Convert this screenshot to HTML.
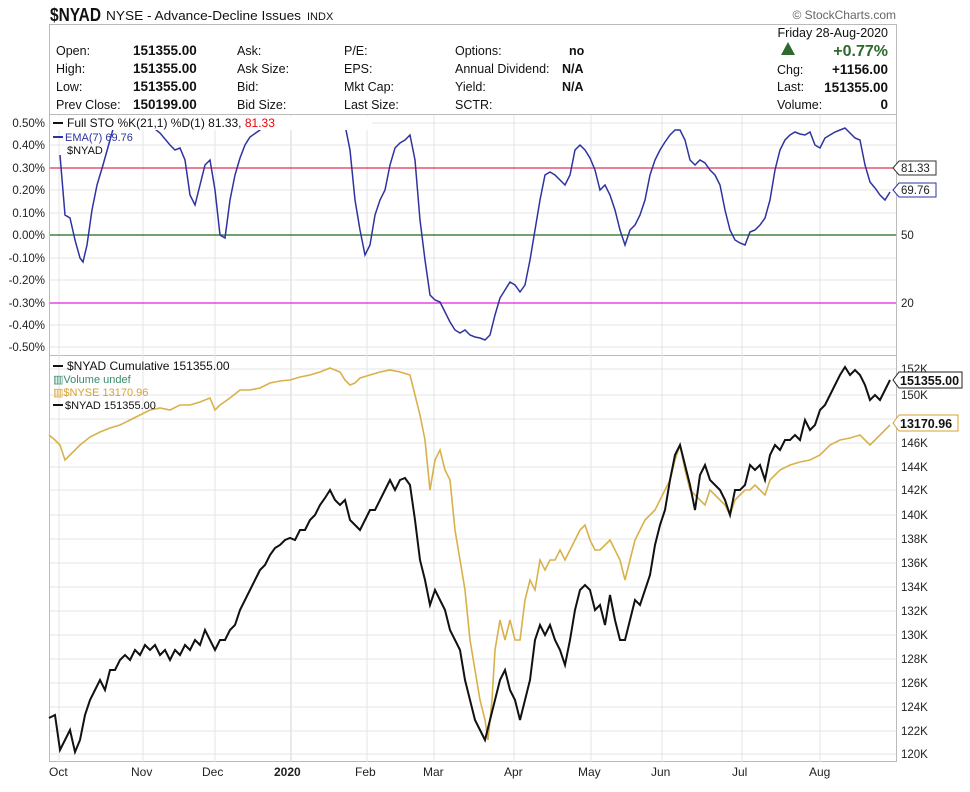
<!DOCTYPE html>
<html><head><meta charset="utf-8"><style>
body{margin:0;background:#fff;width:970px;height:787px;overflow:hidden;font-family:"Liberation Sans",sans-serif}
</style></head><body>
<svg width="970" height="787" xmlns="http://www.w3.org/2000/svg" font-family="Liberation Sans, sans-serif">
<text x="50" y="21" font-size="18" font-weight="bold" fill="#111" textLength="51" lengthAdjust="spacingAndGlyphs">$NYAD</text>
<text x="106" y="20" font-size="13" fill="#111" textLength="195" lengthAdjust="spacingAndGlyphs">NYSE - Advance-Decline Issues</text>
<text x="307" y="20" font-size="11" fill="#111">INDX</text>
<text x="896" y="19" font-size="12" fill="#666" text-anchor="end">© StockCharts.com</text>
<rect x="49.5" y="24.5" width="847" height="90" fill="#fff" stroke="#bbb"/>
<g font-size="12.5" fill="#111">
<text x="56" y="55">Open:</text><text x="56" y="73">High:</text><text x="56" y="91">Low:</text><text x="56" y="109">Prev Close:</text>
<g font-weight="bold" font-size="13.5"><text x="133" y="55">151355.00</text><text x="133" y="73">151355.00</text><text x="133" y="91">151355.00</text><text x="133" y="109">150199.00</text></g>
<text x="237" y="55">Ask:</text><text x="237" y="73">Ask Size:</text><text x="237" y="91">Bid:</text><text x="237" y="109">Bid Size:</text>
<text x="344" y="55">P/E:</text><text x="344" y="73">EPS:</text><text x="344" y="91">Mkt Cap:</text><text x="344" y="109">Last Size:</text>
<text x="455" y="55">Options:</text><text x="455" y="73">Annual Dividend:</text><text x="455" y="91">Yield:</text><text x="455" y="109">SCTR:</text>
<g font-weight="bold"><text x="569" y="55">no</text><text x="562" y="73">N/A</text><text x="562" y="91">N/A</text></g>
<text x="888" y="37" text-anchor="end">Friday  28-Aug-2020</text>
<polygon points="781,55 788,42 795,55" fill="#2d6a2d"/>
<text x="888" y="56" text-anchor="end" font-size="16" font-weight="bold" fill="#2d6a2d">+0.77%</text>
<text x="777" y="74">Chg:</text><text x="888" y="74" text-anchor="end" font-weight="bold" font-size="13.5">+1156.00</text>
<text x="777" y="91">Last:</text><text x="888" y="92" text-anchor="end" font-weight="bold" font-size="13.5">151355.00</text>
<text x="777" y="109">Volume:</text><text x="888" y="109" text-anchor="end" font-weight="bold" font-size="13.5">0</text>
</g>
<rect x="49.5" y="114.5" width="847" height="241" fill="none" stroke="#bbb"/>
<rect x="49.5" y="355.5" width="847" height="406" fill="none" stroke="#bbb"/>
<g stroke="#e4e4e4" stroke-width="1">
<line x1="59" y1="115" x2="59" y2="762"/><line x1="143" y1="115" x2="143" y2="762"/><line x1="215" y1="115" x2="215" y2="762"/><line x1="291" y1="115" x2="291" y2="762" stroke="#d4d4d4"/><line x1="367" y1="115" x2="367" y2="762"/><line x1="434" y1="115" x2="434" y2="762"/><line x1="514" y1="115" x2="514" y2="762"/><line x1="591" y1="115" x2="591" y2="762"/><line x1="662" y1="115" x2="662" y2="762"/><line x1="742" y1="115" x2="742" y2="762"/><line x1="820" y1="115" x2="820" y2="762"/>
<line x1="50" y1="123" x2="896" y2="123"/><line x1="50" y1="145" x2="896" y2="145"/><line x1="50" y1="190" x2="896" y2="190"/><line x1="50" y1="213" x2="896" y2="213"/><line x1="50" y1="258" x2="896" y2="258"/><line x1="50" y1="280" x2="896" y2="280"/><line x1="50" y1="325" x2="896" y2="325"/><line x1="50" y1="347" x2="896" y2="347"/>
</g>
<g stroke="#e4e4e4">
<line x1="50" y1="754" x2="896" y2="754"/><line x1="50" y1="731" x2="896" y2="731"/><line x1="50" y1="707" x2="896" y2="707"/><line x1="50" y1="683" x2="896" y2="683"/><line x1="50" y1="659" x2="896" y2="659"/><line x1="50" y1="635" x2="896" y2="635"/><line x1="50" y1="611" x2="896" y2="611"/><line x1="50" y1="587" x2="896" y2="587"/><line x1="50" y1="563" x2="896" y2="563"/><line x1="50" y1="539" x2="896" y2="539"/><line x1="50" y1="515" x2="896" y2="515"/><line x1="50" y1="490" x2="896" y2="490"/><line x1="50" y1="467" x2="896" y2="467"/><line x1="50" y1="443" x2="896" y2="443"/><line x1="50" y1="419" x2="896" y2="419"/><line x1="50" y1="395" x2="896" y2="395"/><line x1="50" y1="369" x2="896" y2="369"/>
</g>
<line x1="50" y1="168" x2="896" y2="168" stroke="#e0305a" stroke-width="1.3"/>
<line x1="50" y1="235" x2="896" y2="235" stroke="#1a6a1a" stroke-width="1.2"/>
<line x1="50" y1="303" x2="896" y2="303" stroke="#e020e0" stroke-width="1.3"/>
<g font-size="11.5" fill="#222" text-anchor="end">
<text x="45" y="127">0.50%</text><text x="45" y="149">0.40%</text><text x="45" y="172">0.30%</text><text x="45" y="194">0.20%</text><text x="45" y="217">0.10%</text><text x="45" y="239">0.00%</text><text x="45" y="262">-0.10%</text><text x="45" y="284">-0.20%</text><text x="45" y="307">-0.30%</text><text x="45" y="329">-0.40%</text><text x="45" y="351">-0.50%</text>
</g>
<polyline fill="none" stroke="#2e33a0" stroke-width="1.5" points="60,155 65,215 70,218 75,240 80,258 83,262 87,245 92,210 97,185 103,165 110,140 115,122 150,125 160,133 170,145 175,150 180,148 185,160 190,195 195,205 200,185 205,165 210,160 215,190 220,235 225,238 230,200 235,175 240,158 245,145 250,137 260,130 265,126 270,120 280,118 340,118 345,125 350,150 355,200 360,230 365,255 370,245 375,215 380,200 385,190 390,165 395,148 400,143 405,140 410,135 415,160 420,220 425,260 430,295 435,300 440,302 445,312 450,322 455,330 460,333 465,330 470,335 475,337 480,338 485,340 490,335 495,315 500,298 505,290 510,282 515,285 520,292 525,285 530,260 535,230 540,200 545,175 550,172 555,175 560,180 565,185 570,175 575,150 580,145 585,150 590,158 595,170 600,190 605,185 610,195 615,210 620,230 625,245 630,230 635,225 640,215 645,200 650,175 655,160 660,150 665,142 670,135 675,130 680,130 685,140 690,160 695,165 700,160 705,163 710,170 715,175 720,185 725,210 730,230 735,240 740,243 745,245 750,232 755,230 760,225 765,218 770,200 775,170 780,150 785,140 790,135 795,132 800,134 805,135 810,132 815,145 820,148 825,138 830,135 835,132 840,130 845,128 850,133 855,138 860,140 865,165 870,182 875,188 880,195 885,200 890,192"/>
<rect x="52" y="116" width="320" height="14" fill="#fff"/>
<g font-size="12">
<line x1="53" y1="123" x2="63" y2="123" stroke="#111" stroke-width="2"/>
<text x="67" y="127" fill="#111">Full STO %K(21,1) %D(1) 81.33, <tspan fill="#e00">81.33</tspan></text>
<line x1="53" y1="137" x2="63" y2="137" stroke="#2e33a0" stroke-width="2"/>
<text x="65" y="141" fill="#2e33a0" font-size="11">EMA(7) 69.76</text>
<text x="67" y="154" fill="#111" font-size="11">$NYAD</text>
</g>
<g font-size="11.5" fill="#222">
<polygon points="893,168 899,161 936,161 936,175 899,175" fill="#fff" stroke="#333"/><text x="901" y="172">81.33</text>
<polygon points="893,190 899,183 936,183 936,197 899,197" fill="#fff" stroke="#2e33a0"/><text x="901" y="194">69.76</text>
<text x="901" y="239">50</text><text x="901" y="307">20</text>
</g>
<polyline fill="none" stroke="#d9b14a" stroke-width="1.6" points="49,435 55,440 60,445 65,460 70,455 75,450 80,445 90,437 100,432 110,428 120,425 130,420 140,415 150,410 160,408 170,410 180,405 190,405 200,402 210,398 215,410 220,405 230,398 240,390 250,390 260,388 270,383 280,381 290,380 300,377 310,375 320,372 330,368 340,372 345,380 350,385 355,383 360,378 370,375 380,372 390,370 400,372 410,375 415,395 420,415 425,440 430,490 435,460 440,450 445,470 450,480 455,530 460,560 465,590 470,640 475,670 480,700 485,720 488,740 492,700 495,650 500,620 505,640 510,620 515,640 520,640 525,600 530,580 535,590 540,560 545,570 550,560 555,560 560,550 565,560 570,550 575,540 580,530 585,525 590,540 595,550 600,550 605,545 610,540 615,550 620,560 625,580 630,560 635,540 640,530 645,520 650,515 655,510 660,500 665,490 670,480 675,460 680,445 685,470 690,490 695,495 700,500 705,505 710,490 715,495 720,500 725,505 730,515 735,500 740,495 745,490 750,490 755,485 760,490 765,495 770,480 775,475 780,470 790,465 800,462 810,460 820,455 830,445 840,440 850,438 860,435 870,445 880,435 890,425"/>
<polyline fill="none" stroke="#111" stroke-width="2" points="49,718 55,715 60,750 65,740 70,730 75,752 80,740 85,715 90,700 95,690 100,680 105,690 110,670 115,670 120,660 125,655 130,660 135,650 140,655 145,645 150,650 155,645 160,655 165,650 170,660 175,650 180,655 185,645 190,650 195,640 200,645 205,630 210,640 215,650 220,640 225,640 230,630 235,625 240,610 245,600 250,590 255,580 260,570 265,565 270,555 275,548 280,545 285,540 290,538 295,540 300,530 305,530 310,520 315,515 320,505 325,498 330,490 335,500 340,505 345,500 350,520 355,525 360,530 365,520 370,510 375,510 380,500 385,490 390,480 395,490 400,480 405,478 410,485 415,520 420,560 425,580 430,605 435,590 440,600 445,610 450,630 455,640 460,650 465,680 470,700 475,720 480,730 485,740 490,720 495,700 500,680 505,670 510,690 515,700 520,720 525,700 530,680 535,640 540,625 545,635 550,625 555,640 560,650 565,665 570,640 575,610 580,590 585,585 590,590 595,610 600,605 605,625 610,595 615,620 620,640 625,640 630,620 635,600 640,605 645,590 650,575 655,545 660,525 665,510 670,480 675,455 680,445 685,465 690,485 695,510 700,475 705,465 710,480 715,485 720,490 725,500 730,515 735,490 740,490 745,485 750,465 755,470 760,465 765,480 770,455 775,445 780,450 785,440 790,440 795,435 800,440 805,420 810,430 815,425 820,410 825,405 830,395 835,385 840,375 845,367 850,375 855,370 860,375 865,385 870,400 875,395 880,400 885,390 890,380"/>
<g font-size="12">
<line x1="53" y1="366" x2="63" y2="366" stroke="#111" stroke-width="2"/>
<text x="67" y="370" fill="#111">$NYAD Cumulative 151355.00</text>
<text x="53" y="383" fill="#3a8a6a" font-size="11">▥Volume undef</text>
<text x="53" y="396" fill="#d9a030" font-size="11">▥$NYSE 13170.96</text>
<line x1="53" y1="405" x2="63" y2="405" stroke="#111" stroke-width="2"/>
<text x="65" y="409" fill="#111" font-size="11">$NYAD 151355.00</text>
</g>
<g font-size="11.5" fill="#222">
<text x="901" y="758">120K</text><text x="901" y="735">122K</text><text x="901" y="711">124K</text><text x="901" y="687">126K</text><text x="901" y="663">128K</text><text x="901" y="639">130K</text><text x="901" y="615">132K</text><text x="901" y="591">134K</text><text x="901" y="567">136K</text><text x="901" y="543">138K</text><text x="901" y="519">140K</text><text x="901" y="494">142K</text><text x="901" y="471">144K</text><text x="901" y="447">146K</text><text x="901" y="423">148K</text><text x="901" y="399">150K</text><text x="901" y="373">152K</text>
<polygon points="893,380 899,372 962,372 962,388 899,388" fill="#fff" stroke="#222"/><text x="900" y="385" font-weight="bold" font-size="12.5" fill="#111">151355.00</text>
<polygon points="893,423 899,415 958,415 958,431 899,431" fill="#fff" stroke="#d9a030"/><text x="900" y="428" font-weight="bold" font-size="12.5" fill="#111">13170.96</text>
</g>
<g font-size="12" fill="#222">
<text x="49" y="776">Oct</text><text x="131" y="776">Nov</text><text x="202" y="776">Dec</text><text x="274" y="776" font-weight="bold">2020</text><text x="355" y="776">Feb</text><text x="423" y="776">Mar</text><text x="504" y="776">Apr</text><text x="578" y="776">May</text><text x="651" y="776">Jun</text><text x="732" y="776">Jul</text><text x="809" y="776">Aug</text>
</g>
</svg>
</body></html>
